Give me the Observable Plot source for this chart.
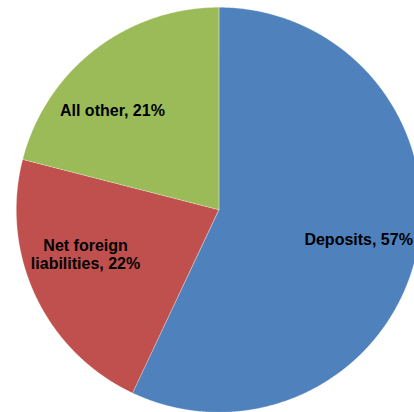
<!DOCTYPE html>
<html>
<head>
<meta charset="utf-8">
<script src="https://cdn.jsdelivr.net/npm/d3@7"></script>
<script src="https://cdn.jsdelivr.net/npm/@observablehq/plot@0.6"></script>
<style>
  html, body { margin: 0; padding: 0; background: #fff; overflow: hidden; }
  #chart { width: 414px; height: 412px; }
</style>
</head>
<body>
<div id="chart"></div>
<script>
// Data
const categories = ["Deposits", "Net foreign liabilities", "All other"];
const shares = [57, 22, 21];

// Build pie slices (clockwise from 12 o'clock) as closed polygons
const total = d3.sum(shares);
const pie = d3.pie().sort(null).value(d => d.share)(
  categories.map((c, i) => ({category: c, share: shares[i]}))
);
const slicePoints = [];
for (const s of pie) {
  const n = Math.max(2, Math.ceil((s.endAngle - s.startAngle) / (Math.PI / 720)));
  slicePoints.push({category: s.data.category, x: 0, y: 0});
  for (let k = 0; k <= n; ++k) {
    const a = s.startAngle + (s.endAngle - s.startAngle) * k / n;
    slicePoints.push({category: s.data.category, x: Math.sin(a), y: Math.cos(a)});
  }
}
const labels = pie.map(s => {
  const a = (s.startAngle + s.endAngle) / 2;
  return {
    category: s.data.category,
    text: `${s.data.category}, ${Math.round(s.data.share / total * 100)}%`,
    x: 0.7 * Math.sin(a),
    y: 0.7 * Math.cos(a)
  };
});

const R = 202.5, CX = 218.3, CY = 209.3, W = 414, H = 412;
const textStyle = {
  x: "x", y: "y", text: "text",
  fontFamily: "'Liberation Sans', Arial, sans-serif",
  fontWeight: "bold", fontSize: 16, fill: "#000",
  lineWidth: 7, lineHeight: 1.1, textAnchor: "middle", lineAnchor: "middle"
};

const chart = Plot.plot({
  width: W, height: H,
  margin: 0,
  x: {domain: [-CX / R, (W - CX) / R], axis: null},
  y: {domain: [-(H - CY) / R, CY / R], axis: null},
  color: {domain: categories, range: ["#4F81BD", "#C0504D", "#9BBB59"]},
  style: {background: "#fff", overflow: "hidden"},
  marks: [
    Plot.line(slicePoints, {
      x: "x", y: "y", z: "category", fill: "category",
      stroke: "#fff", strokeWidth: 0.5, strokeOpacity: 0.6,
      curve: "linear-closed"
    }),
    Plot.text(labels.filter(d => d.category === "Deposits"), {...textStyle, dx: 1.5, dy: -1}),
    Plot.text(labels.filter(d => d.category === "Net foreign liabilities"), {...textStyle, dx: -5, dy: -16}),
    Plot.text(labels.filter(d => d.category === "All other"), {...textStyle, dx: -19.5, dy: 12.5})
  ]
});
document.getElementById("chart").append(chart);
</script>
</body>
</html>
